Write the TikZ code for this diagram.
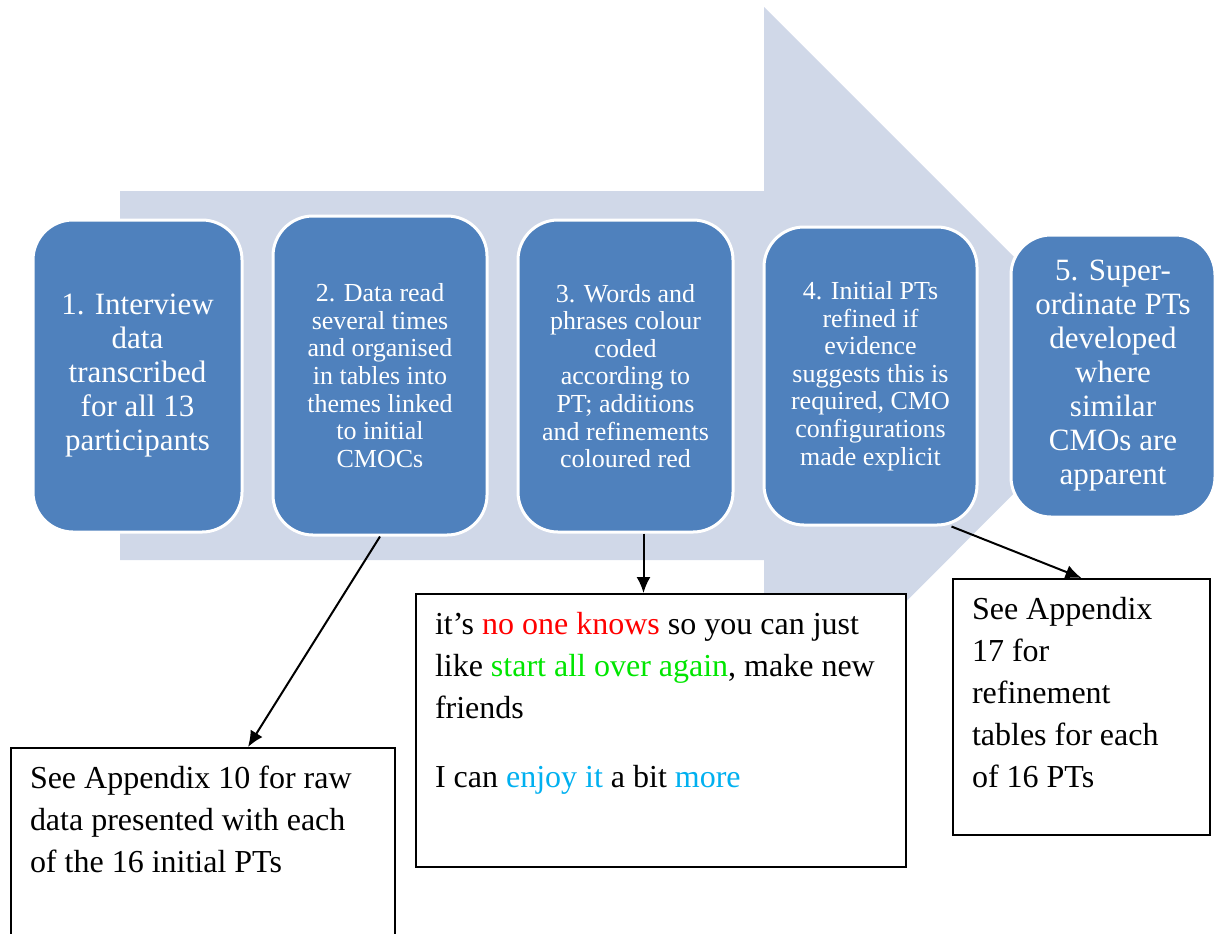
\documentclass[tikz,border=0pt]{standalone}
\usepackage{fontspec}
\setmainfont{Liberation Serif}
\usetikzlibrary{arrows.meta}
\definecolor{stepblue}{RGB}{79,129,189}
\definecolor{flowgrey}{RGB}{208,216,232}
\definecolor{quotered}{RGB}{255,0,0}
\definecolor{quotegreen}{RGB}{0,230,0}
\definecolor{quoteblue}{RGB}{0,176,240}

\begin{document}
\begin{tikzpicture}[x=0.5pt,y=-0.5pt,
  stage/.style={fill=stepblue,draw=white,line width=1.5pt,rounded corners=20pt,text=white,align=center},
  bigstage/.style={stage,font=\fontsize{15.5}{17}\selectfont},
  smallstage/.style={stage,font=\fontsize{13}{13.8}\selectfont},
  note/.style={draw=black,fill=white,line width=1pt,anchor=north west,inner xsep=9.5pt,inner ysep=9pt,font=\fontsize{16}{21}\selectfont},
  pointer/.style={-{Latex[length=8pt,width=7pt]},line width=1pt}]
\useasboundingbox (0,0) rectangle (1216,933);

% Big process arrow behind the stages
\fill[flowgrey] (120,191) -- (764,191) -- (764,7) -- (1132,375) -- (764,744) -- (764,560) -- (120,560) -- cycle;

% Stages
\node[bigstage,minimum width=104.5pt,minimum height=156pt] (b1) at (137.5,376) {1. Interview\\data\\transcribed\\for all 13\\participants};
\node[smallstage,minimum width=107pt,minimum height=159.5pt] (b2) at (380,375.5) {2. Data read\\several times\\and organised\\in tables into\\themes linked\\to initial\\CMOCs};
\node[smallstage,minimum width=107.5pt,minimum height=156pt] (b3) at (625.5,376) {3. Words and\\phrases colour\\coded\\according to\\PT; additions\\and refinements\\coloured red};
\node[smallstage,minimum width=106.5pt,minimum height=149pt] (b4) at (870.5,376) {4. Initial PTs\\refined if\\evidence\\suggests this is\\required, CMO\\configurations\\made explicit};
\node[bigstage,minimum width=102pt,minimum height=141pt] (b5) at (1113,376) {5. Super-\\ordinate PTs\\developed\\where\\similar\\CMOs are\\apparent};

% Notes
\node[note] (n1) at (10,747) {\parbox[c][81pt][t]{173pt}{\raggedright See Appendix 10 for raw\\data presented with each\\of the 16 initial PTs}};
\node[note] (n2) at (415,593) {\parbox[c][118.5pt][t]{226pt}{\raggedright it’s \textcolor{quotered}{no one knows} so you can just\\like \textcolor{quotegreen}{start all over again}, make new\\friends\\[13.5pt]I can \textcolor{quoteblue}{enjoy it} a bit \textcolor{quoteblue}{more}}};
\node[note] (n3) at (952,578) {\parbox[c][110pt][t]{109.5pt}{\raggedright See Appendix\\17 for\\refinement\\tables for each\\of 16 PTs}};

% Links
\draw[pointer] (b2.south) -- ([xshift=22.5pt]n1.north);
\draw[pointer] ([xshift=9pt]b3.south) -- ([xshift=9pt]b3.south |- n2.north);
\draw[pointer] ([xshift=-13.5pt]b4.south east) -- (n3.north);
\end{tikzpicture}
\end{document}
